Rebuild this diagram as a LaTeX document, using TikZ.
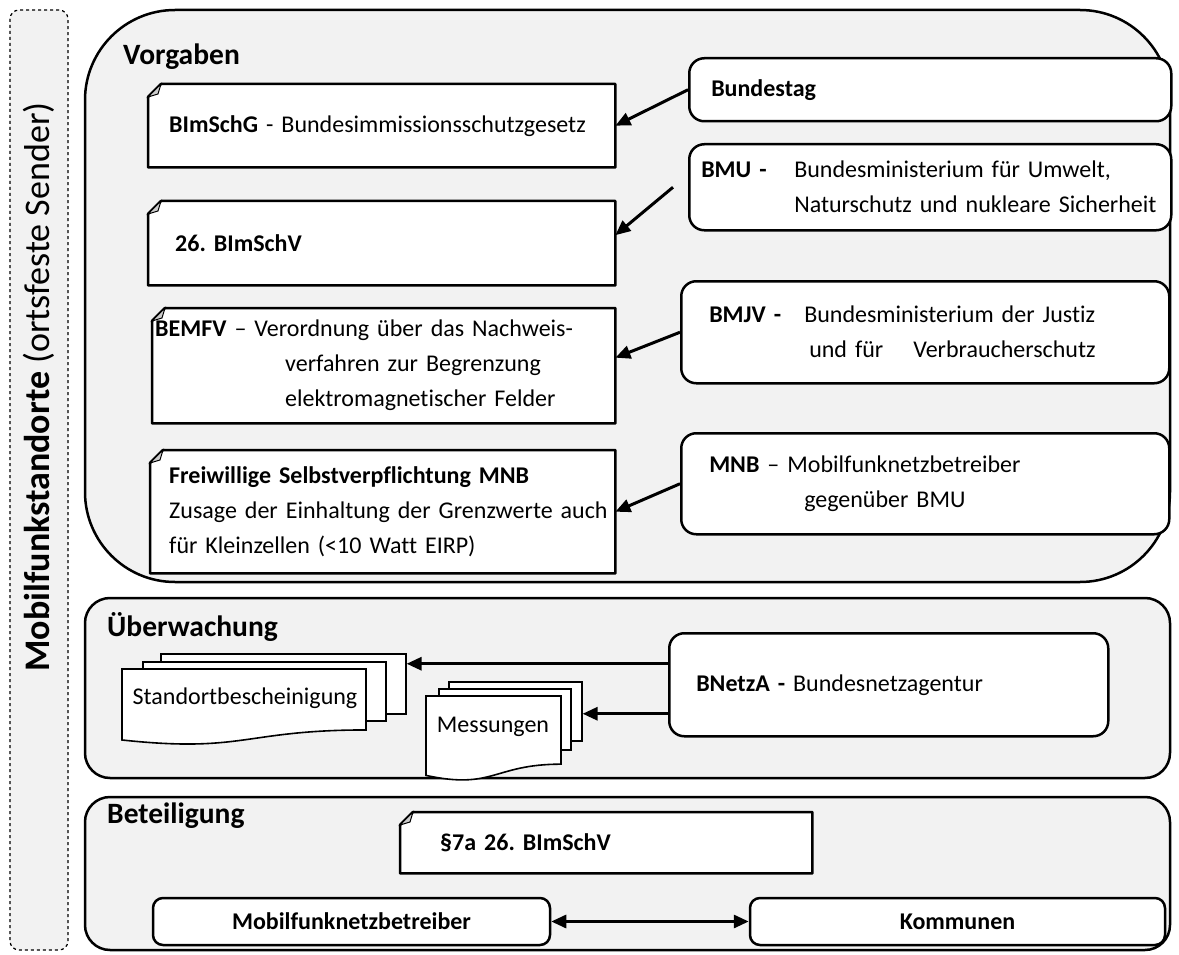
\documentclass[tikz,border=0pt]{standalone}
\usepackage{fontspec}
\setmainfont{Carlito}[Ligatures=NoCommon]
\usetikzlibrary{arrows.meta,positioning}

\definecolor{panel}{HTML}{F2F2F2}

\tikzset{
  group/.style={draw, line width=2.5pt, fill=panel, rounded corners=25pt},
  side/.style={draw, dashed, line width=1.2pt, fill=panel, rounded corners=9pt},
  grouptitle/.style={anchor=west, inner sep=0pt, font=\fontsize{29.5}{34}\selectfont\bfseries},
  org/.style={draw, line width=2.5pt, fill=white, rounded corners=15pt, anchor=north west, align=left, inner ysep=0pt},
  doc/.style={fill=white, anchor=north west, align=left, inner ysep=0pt},
  docline/.style={line width=2.5pt, line join=round},
  page/.style={draw, line width=1.6pt, fill=white, anchor=north west, inner sep=0pt},
  link/.style={line width=3pt, -{Triangle[length=15pt,width=13pt]}},
}

% document box with a folded corner (top left)
\newcommand{\foldframe}[1]{%
  \fill[panel] (#1.north west) -- ([xshift=13pt]#1.north west) -- ([yshift=-13pt]#1.north west) -- cycle;
  \draw[docline] ([xshift=13pt]#1.north west) -- (#1.north east) -- (#1.south east)
    -- (#1.south west) -- ([yshift=-13pt]#1.north west) -- cycle;
  \draw[line width=1pt, fill=gray!40] ([yshift=-13pt]#1.north west) -- ([xshift=13pt]#1.north west)
    -- ([xshift=10pt,yshift=-10pt]#1.north west) -- cycle;
}

% page with a wavy bottom: x, y, width, height
\newcommand{\wavedoc}[4]{%
  \draw[line width=1.6pt, fill=white] (#1,#2) -- ({#1+#3},#2) -- ({#1+#3},{#2+0.802*#4})
    .. controls ({#1+0.5*#3},{#2+0.802*#4}) and ({#1+0.5*#3},{#2+1.107*#4}) .. (#1,{#2+0.934*#4}) -- cycle;
}

\begin{document}
\begin{tikzpicture}[x=1pt, y=-1pt, every node/.append style={font=\fontsize{24}{35}\selectfont\frenchspacing}]
    \useasboundingbox (0,0) rectangle (1179,955);

    % Side label
    \draw[side] (10,10) rectangle (68,950);
    \node[rotate=90, font=\fontsize{36}{40}\selectfont] (standorte) at (39,387)
        {\textbf{Mobilfunkstandorte} (ortsfeste Sender)};

    % Groups
    \draw[group, rounded corners=90pt] (85,10) rectangle (1170,582);
    \draw[group] (85,598) rectangle (1170,778);
    \draw[group] (85,797) rectangle (1170,950);
    \node[grouptitle] (vorgaben) at (123,57) {Vorgaben};
    \node[grouptitle] (ueberwachung) at (107,627) {Überwachung};
    \node[grouptitle] (beteiligung) at (107,816) {Beteiligung};

    % Vorgaben: laws
    \node[doc, inner xsep=21pt, text width=425pt, minimum height=83pt] (bimschg) at (148,84)
        {\mbox{\textbf{BImSchG} - Bundesimmissionsschutzgesetz}};
    \foldframe{bimschg}
    \node[doc, inner xsep=27pt, text width=413pt, minimum height=84pt] (bimschv) at (148,201)
        {\mbox{\textbf{26. BImSchV}}};
    \foldframe{bimschv}
    \node[doc, inner xsep=3pt, text width=457pt, minimum height=115pt] (bemfv) at (152,308)
        {\mbox{\textbf{BEMFV} -- Verordnung über das Nachweis-}\\
         \mbox{\hspace*{130pt}verfahren zur Begrenzung}\\
         \mbox{\hspace*{130pt}elektromagnetischer Felder}};
    \foldframe{bemfv}
    \node[doc, inner xsep=19pt, text width=427pt, minimum height=123pt] (selbst) at (150,450)
        {\mbox{\textbf{Freiwillige Selbstverpflichtung MNB}}\\
         \makebox[434pt][s]{Zusage der Einhaltung der Grenzwerte auch}\\
         \mbox{für Kleinzellen (<10 Watt EIRP)}};
    \foldframe{selbst}

    % Vorgaben: issuers
    \node[org, inner xsep=22pt, text width=438pt, minimum height=63pt] (bundestag) at (688,57)
        {\textbf{Bundestag}};
    \node[org, inner xsep=12pt, text width=458pt, minimum height=86pt] (bmu) at (688,143)
        {\mbox{\makebox[93pt][l]{\textbf{BMU -}}Bundesministerium für Umwelt,}\\
         \mbox{\hspace*{93pt}Naturschutz und nukleare Sicherheit}};
    \node[org, inner xsep=28pt, text width=432pt, minimum height=102pt] (bmjv) at (680,280)
        {\mbox{\makebox[95pt][l]{\textbf{BMJV -}}Bundesministerium der Justiz}\\
         \mbox{\hspace*{100pt}und für\hspace{30pt}Verbraucherschutz}};
    \node[org, inner xsep=28pt, text width=432pt, minimum height=101pt] (mnb) at (680,432)
        {\mbox{\textbf{MNB} -- Mobilfunknetzbetreiber}\\
         \mbox{\hspace*{95pt}gegenüber BMU}};

    \draw[link] (bundestag.west) -- (bimschg.east);
    \draw[link] ([xshift=-15pt]bmu.west) -- ([yshift=8pt]bimschv.east);
    \draw[link] (bmjv.west) -- ([yshift=8pt]bemfv.east);
    \draw[link] (mnb.west) -- (selbst.east);

    % Ueberwachung
    \node[page, minimum width=245pt, minimum height=60pt] (std3) at (160,653) {};
    \node[page, minimum width=243pt, minimum height=59pt] (std2) at (142,661) {};
    \wavedoc{122}{669}{244}{76}
    \node (stdtxt) at (245,698) {Standortbescheinigung};

    \node[page, minimum width=133pt, minimum height=59pt] (mes3) at (448,681) {};
    \node[page, minimum width=132pt, minimum height=61pt] (mes2) at (438,688) {};
    \wavedoc{426}{696}{135}{85}
    \node (mestxt) at (493,727) {Messungen};

    \node[org, inner xsep=27pt, text width=385pt, minimum height=103pt] (bnetza) at (668,632)
        {\mbox{\textbf{BNetzA -} Bundesnetzagentur}};

    \draw[link] ([yshift=21pt]bnetza.west) -- ([yshift=21pt]bnetza.west -| std3.east);
    \draw[link] ([yshift=-29pt]bnetza.west) -- ([yshift=-29pt]bnetza.west -| mes3.east);

    % Beteiligung
    \node[doc, inner xsep=40pt, text width=332pt, minimum height=61pt] (para) at (400,812)
        {\textbf{§7a 26. BImSchV}};
    \foldframe{para}
    \node[org, rounded corners=10pt, anchor=center, align=center, minimum width=397pt, minimum height=47pt]
        (betreiber) at (351.5,921.5) {\textbf{Mobilfunknetzbetreiber}};
    \node[org, rounded corners=10pt, anchor=center, align=center, minimum width=415pt, minimum height=47pt]
        (kommunen) at (957.5,921.5) {\textbf{Kommunen}};

    \draw[link, {Triangle[length=15pt,width=13pt]}-{Triangle[length=15pt,width=13pt]}] (betreiber) -- (kommunen);
\end{tikzpicture}
\end{document}
